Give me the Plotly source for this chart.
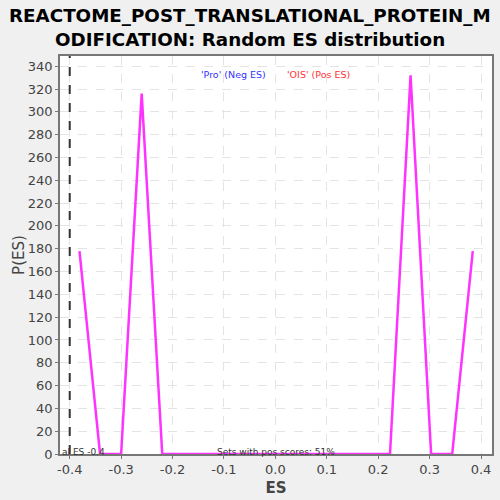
import plotly.graph_objects as go

es_values = [-0.381, -0.341, -0.300, -0.260, -0.220, -0.180, -0.139, -0.099, -0.059,
             -0.018, 0.022, 0.062, 0.102, 0.143, 0.183, 0.223, 0.263, 0.303, 0.344, 0.384]
p_values = [178, 0, 0, 316, 0, 0, 0, 0, 0, 0, 0, 0, 0, 0, 0, 0, 332, 0, 0, 178]
actual_es = -0.4
x_ticks = [-0.4, -0.3, -0.2, -0.1, 0.0, 0.1, 0.2, 0.3, 0.4]
x_tick_labels = ["-0.4", "-0.3", "-0.2", "-0.1", "0.0", "0.1", "0.2", "0.3", "0.4"]
y_ticks = list(range(0, 341, 20))
title_lines = ["REACTOME_POST_TRANSLATIONAL_PROTEIN_M", "ODIFICATION: Random ES distribution"]

fig = go.Figure()
fig.add_trace(go.Scatter(x=es_values, y=p_values, mode="lines",
                         line=dict(color="#ff33ff", width=2.5), showlegend=False))

fig.add_shape(type="line", x0=actual_es, x1=actual_es, xref="x", yref="paper", y0=0, y1=1,
              line=dict(color="#333333", width=2, dash="dash"))

# title lines (as annotations for exact placement)
fig.add_annotation(text="<b>" + title_lines[0] + "</b>", x=0.44, y=1.103, xref="paper", yref="paper",
                   xanchor="center", yanchor="middle", showarrow=False,
                   font=dict(family="DejaVu Sans", size=18.3, color="#000000"))
fig.add_annotation(text="<b>" + title_lines[1] + "</b>", x=0.44, y=1.0427, xref="paper", yref="paper",
                   xanchor="center", yanchor="middle", showarrow=False,
                   font=dict(family="DejaVu Sans", size=18.3, color="#000000"))

fig.add_annotation(text="'Pro' (Neg ES)", x=0.401, y=0.972, xref="paper", yref="paper",
                   showarrow=False, font=dict(family="DejaVu Sans", size=9.5, color="#3333ff"))
fig.add_annotation(text="'OIS' (Pos ES)", x=0.598, y=0.972, xref="paper", yref="paper",
                   showarrow=False, font=dict(family="DejaVu Sans", size=9.5, color="#ff3333"))
fig.add_annotation(text="Sets with pos scores: 51%", x=0.5, y=0.0, xref="paper", yref="paper",
                   xanchor="center", yanchor="bottom", yshift=-5, showarrow=False,
                   font=dict(family="DejaVu Sans", size=9, color="#333333"))
fig.add_annotation(text="al ES -0.4", x=0.0, y=0.0, xref="paper", yref="paper",
                   xanchor="left", yanchor="bottom", yshift=-5, showarrow=False,
                   font=dict(family="DejaVu Sans", size=9, color="#333333"))

fig.update_layout(
    width=500, height=500,
    margin=dict(l=60, r=8, t=56, b=46, autoexpand=False),
    paper_bgcolor="#f0f0f0", plot_bgcolor="#ffffff",
    font=dict(family="DejaVu Sans", color="#444444"),
)
fig.update_xaxes(range=[-0.4189, 0.4214], tickvals=x_ticks, ticktext=x_tick_labels, automargin=False,
                 tickfont=dict(size=13, color="#444444"),
                 showgrid=True, gridcolor="#e4e4e4", griddash="dash", gridwidth=1,
                 zeroline=False, showline=True, linecolor="#777777", linewidth=1.5, mirror=True,
                 ticks="outside", ticklen=3, tickcolor="#777777",
                 title=dict(text="<b>ES</b>", font=dict(size=15, color="#444444"), standoff=6))
fig.update_yaxes(range=[0, 349], tickvals=y_ticks, automargin=False,
                 tickfont=dict(size=13, color="#444444"),
                 showgrid=True, gridcolor="#e4e4e4", griddash="dash", gridwidth=1,
                 zeroline=False, showline=True, linecolor="#777777", linewidth=1.5, mirror=True,
                 ticks="outside", ticklen=3, tickcolor="#777777",
                 title=dict(text="P(ES)", font=dict(size=15, color="#444444"), standoff=0))

fig.write_html("out.html", config={"displayModeBar": False})
with open("out.html", "r", encoding="utf-8") as f:
    html = f.read()
html = html.replace("<head>", "<head><style>html,body{margin:0;padding:0;background:#f0f0f0;}</style>", 1)
with open("out.html", "w", encoding="utf-8") as f:
    f.write(html)
